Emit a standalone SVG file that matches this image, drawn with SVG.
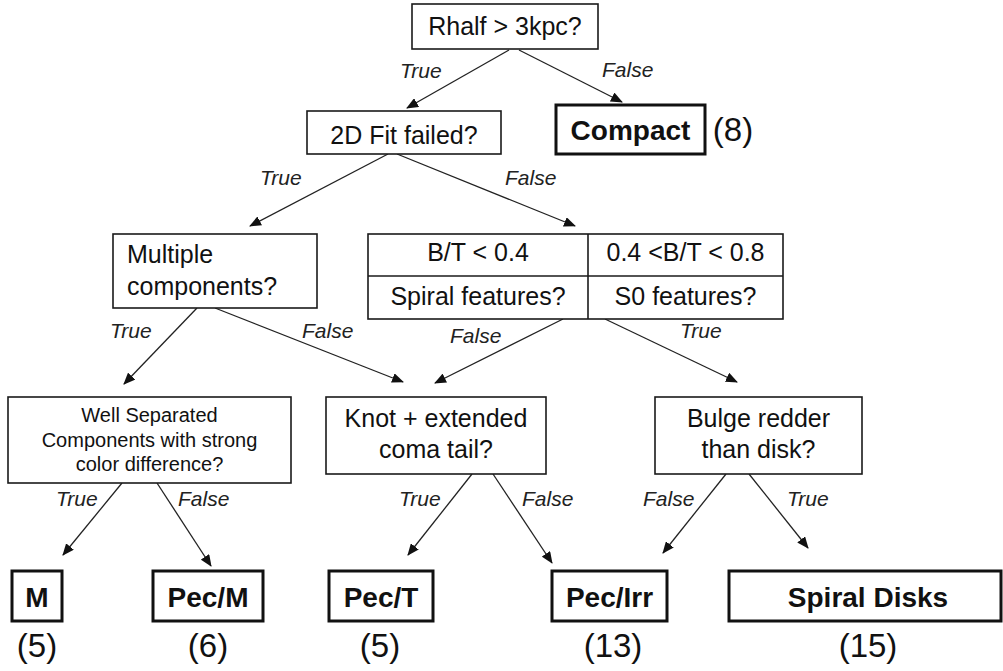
<svg xmlns="http://www.w3.org/2000/svg" width="1003" height="671" viewBox="0 0 1003 671">
<defs>
<style>
.box{fill:#fff;stroke:#1a1a1a;stroke-width:1.6}
.leaf{fill:#fff;stroke:#111;stroke-width:3}
.t{font-family:"Liberation Sans",Arial,sans-serif;font-size:25px;fill:#111}
.s{font-family:"Liberation Sans",Arial,sans-serif;font-size:20px;fill:#111;text-anchor:middle}
.c{text-anchor:middle}
.lb{font-family:"Liberation Sans",Arial,sans-serif;font-size:21px;font-style:italic;fill:#222}
.b{font-family:"Liberation Sans",Arial,sans-serif;font-size:28px;font-weight:bold;fill:#111;text-anchor:middle}
.n{font-family:"Liberation Sans",Arial,sans-serif;font-size:33px;fill:#111;text-anchor:middle}
.e{stroke:#222;stroke-width:1.3;fill:none;marker-end:url(#ah)}
</style>
<marker id="ah" markerUnits="userSpaceOnUse" markerWidth="12" markerHeight="10" refX="11" refY="5" orient="auto">
<path d="M0,0 L12,5 L0,10 z" fill="#111"/>
</marker>
</defs>
<rect width="1003" height="671" fill="#fff"/>

<g id="connectors">
<line class="e" x1="509" y1="50" x2="407" y2="108"/>
<line class="e" x1="519" y1="50" x2="622" y2="102"/>
<line class="e" x1="388" y1="154" x2="250" y2="226"/>
<line class="e" x1="397" y1="154" x2="575" y2="226"/>
<line class="e" x1="197" y1="308" x2="124" y2="384"/>
<line class="e" x1="215" y1="308" x2="403" y2="382"/>
<line class="e" x1="563" y1="319" x2="435" y2="383"/>
<line class="e" x1="605" y1="319" x2="737" y2="382"/>
<line class="e" x1="122" y1="483" x2="63" y2="555"/>
<line class="e" x1="157" y1="483" x2="211" y2="566"/>
<line class="e" x1="472" y1="474" x2="408" y2="555"/>
<line class="e" x1="493" y1="474" x2="552" y2="563"/>
<line class="e" x1="726" y1="474" x2="663" y2="553"/>
<line class="e" x1="749" y1="474" x2="808" y2="548"/>
<g class="lb">
<text x="400" y="78">True</text>
<text x="602" y="77">False</text>
<text x="260" y="185">True</text>
<text x="505" y="185">False</text>
<text x="110" y="338">True</text>
<text x="302" y="338">False</text>
<text x="450" y="343">False</text>
<text x="680" y="338">True</text>
<text x="56" y="506">True</text>
<text x="178" y="506">False</text>
<text x="399" y="506">True</text>
<text x="522" y="506">False</text>
<text x="643" y="506">False</text>
<text x="787" y="506">True</text>
</g>
</g>

<g id="root">
<rect class="box" x="412" y="4" width="186" height="45"/>
<text class="t c" x="505" y="35">Rhalf &gt; 3kpc?</text>
</g>

<g id="compact">
<rect class="leaf" x="556" y="105" width="149" height="49"/>
<text class="b" x="630.5" y="140">Compact</text>
<text class="n" x="733" y="141">(8)</text>
</g>

<g id="fit2d">
<rect class="box" x="307" y="111" width="194" height="43"/>
<text class="t c" x="404" y="144">2D Fit failed?</text>
</g>

<g id="multiple">
<rect class="box" x="113" y="234" width="204" height="74"/>
<text class="t" x="127" y="263">Multiple</text>
<text class="t" x="127" y="295">components?</text>
</g>

<g id="bt">
<rect class="box" x="368" y="234" width="415" height="85"/>
<line x1="588" y1="234" x2="588" y2="319" stroke="#1a1a1a" stroke-width="1.6"/>
<line x1="368" y1="276" x2="783" y2="276" stroke="#1a1a1a" stroke-width="1.6"/>
<text class="t c" x="478" y="261">B/T &lt; 0.4</text>
<text class="t c" x="685.5" y="261">0.4 &lt;B/T &lt; 0.8</text>
<text class="t c" x="478" y="305">Spiral features?</text>
<text class="t c" x="685.5" y="305">S0 features?</text>
</g>

<g id="wellsep">
<rect class="box" x="8" y="397" width="283" height="86"/>
<text class="s" x="149.5" y="422">Well Separated</text>
<text class="s" x="149.5" y="447">Components with strong</text>
<text class="s" x="149.5" y="471">color difference?</text>
</g>

<g id="knot">
<rect class="box" x="326" y="397" width="220" height="77"/>
<text class="t c" x="436" y="427">Knot + extended</text>
<text class="t c" x="436" y="458">coma tail?</text>
</g>

<g id="bulge">
<rect class="box" x="655" y="397" width="207" height="77"/>
<text class="t c" x="758.5" y="427">Bulge redder</text>
<text class="t c" x="758.5" y="458">than disk?</text>
</g>

<g id="leaf-m">
<rect class="leaf" x="12" y="571" width="50" height="50"/>
<text class="b" x="37" y="607">M</text>
<text class="n" x="37" y="657">(5)</text>
</g>
<g id="leaf-pecm">
<rect class="leaf" x="153" y="571" width="110" height="50"/>
<text class="b" x="208" y="607">Pec/M</text>
<text class="n" x="208" y="657">(6)</text>
</g>
<g id="leaf-pect">
<rect class="leaf" x="329" y="571" width="104" height="50"/>
<text class="b" x="381" y="607">Pec/T</text>
<text class="n" x="380" y="657">(5)</text>
</g>
<g id="leaf-pecirr">
<rect class="leaf" x="552" y="571" width="115" height="50"/>
<text class="b" x="609.5" y="607">Pec/Irr</text>
<text class="n" x="613" y="657">(13)</text>
</g>
<g id="leaf-spiral">
<rect class="leaf" x="729" y="571" width="272" height="50"/>
<text class="b" x="868" y="607">Spiral Disks</text>
<text class="n" x="868" y="657">(15)</text>
</g>
</svg>
